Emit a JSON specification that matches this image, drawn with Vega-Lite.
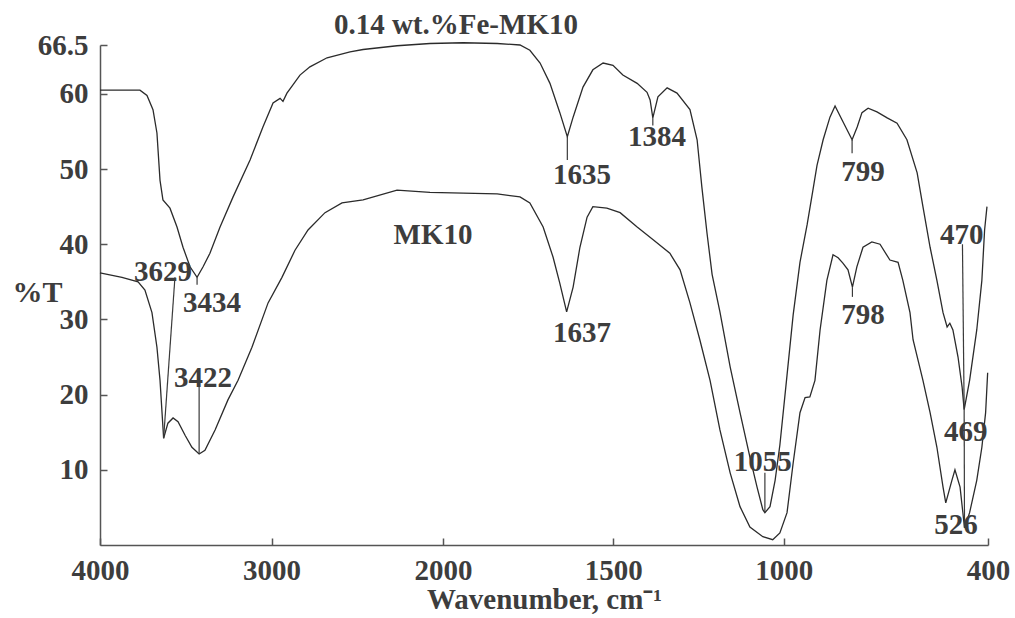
{
  "$schema": "https://vega.github.io/schema/vega-lite/v6.json",
  "width": 888,
  "height": 500,
  "autosize": "none",
  "padding": {"left": 100, "top": 45, "right": 27, "bottom": 73},
  "background": "white",
  "config": {
    "view": {"stroke": null},
    "font": "Liberation Serif"
  },
  "datasets": {
    "curves": [
      {"s": "Fe", "wn": 4000, "t": 60.5}, {"s": "Fe", "wn": 3767, "t": 60.5}, {"s": "Fe", "wn": 3726, "t": 59.8},
      {"s": "Fe", "wn": 3691, "t": 57.9}, {"s": "Fe", "wn": 3668, "t": 54.8}, {"s": "Fe", "wn": 3650, "t": 48.5},
      {"s": "Fe", "wn": 3633, "t": 45.9}, {"s": "Fe", "wn": 3592, "t": 44.8}, {"s": "Fe", "wn": 3551, "t": 42.3},
      {"s": "Fe", "wn": 3516, "t": 39.6}, {"s": "Fe", "wn": 3475, "t": 37.0}, {"s": "Fe", "wn": 3434, "t": 35.6},
      {"s": "Fe", "wn": 3399, "t": 37.0}, {"s": "Fe", "wn": 3359, "t": 38.8}, {"s": "Fe", "wn": 3300, "t": 42.3},
      {"s": "Fe", "wn": 3224, "t": 46.3}, {"s": "Fe", "wn": 3125, "t": 51.2}, {"s": "Fe", "wn": 3050, "t": 55.6},
      {"s": "Fe", "wn": 2991, "t": 58.8}, {"s": "Fe", "wn": 2950, "t": 59.4}, {"s": "Fe", "wn": 2933, "t": 59.0},
      {"s": "Fe", "wn": 2910, "t": 60.1}, {"s": "Fe", "wn": 2875, "t": 61.2}, {"s": "Fe", "wn": 2834, "t": 62.5},
      {"s": "Fe", "wn": 2776, "t": 63.6}, {"s": "Fe", "wn": 2676, "t": 64.8}, {"s": "Fe", "wn": 2542, "t": 65.6},
      {"s": "Fe", "wn": 2466, "t": 65.9}, {"s": "Fe", "wn": 2268, "t": 66.4}, {"s": "Fe", "wn": 2076, "t": 66.7},
      {"s": "Fe", "wn": 1941, "t": 66.8}, {"s": "Fe", "wn": 1841, "t": 66.7}, {"s": "Fe", "wn": 1774, "t": 66.5},
      {"s": "Fe", "wn": 1745, "t": 65.8}, {"s": "Fe", "wn": 1715, "t": 64.1}, {"s": "Fe", "wn": 1686, "t": 61.4},
      {"s": "Fe", "wn": 1657, "t": 57.5}, {"s": "Fe", "wn": 1635, "t": 54.3}, {"s": "Fe", "wn": 1618, "t": 56.9},
      {"s": "Fe", "wn": 1589, "t": 60.9}, {"s": "Fe", "wn": 1560, "t": 63.2}, {"s": "Fe", "wn": 1530, "t": 64.1},
      {"s": "Fe", "wn": 1501, "t": 63.8}, {"s": "Fe", "wn": 1472, "t": 62.5}, {"s": "Fe", "wn": 1430, "t": 61.4},
      {"s": "Fe", "wn": 1401, "t": 60.2}, {"s": "Fe", "wn": 1392, "t": 59.2}, {"s": "Fe", "wn": 1384, "t": 56.8},
      {"s": "Fe", "wn": 1369, "t": 59.6}, {"s": "Fe", "wn": 1342, "t": 60.8}, {"s": "Fe", "wn": 1313, "t": 60.1},
      {"s": "Fe", "wn": 1275, "t": 57.9}, {"s": "Fe", "wn": 1254, "t": 53.9}, {"s": "Fe", "wn": 1240, "t": 47.6},
      {"s": "Fe", "wn": 1225, "t": 41.5}, {"s": "Fe", "wn": 1210, "t": 36.0}, {"s": "Fe", "wn": 1187, "t": 31.0},
      {"s": "Fe", "wn": 1157, "t": 23.7}, {"s": "Fe", "wn": 1128, "t": 17.6}, {"s": "Fe", "wn": 1099, "t": 11.7},
      {"s": "Fe", "wn": 1078, "t": 7.7}, {"s": "Fe", "wn": 1061, "t": 4.7}, {"s": "Fe", "wn": 1055, "t": 4.3},
      {"s": "Fe", "wn": 1040, "t": 5.1}, {"s": "Fe", "wn": 1025, "t": 8.6}, {"s": "Fe", "wn": 1011, "t": 13.3},
      {"s": "Fe", "wn": 990, "t": 22.6}, {"s": "Fe", "wn": 972, "t": 30.6}, {"s": "Fe", "wn": 952, "t": 37.6},
      {"s": "Fe", "wn": 931, "t": 42.6}, {"s": "Fe", "wn": 914, "t": 47.2}, {"s": "Fe", "wn": 902, "t": 50.5},
      {"s": "Fe", "wn": 884, "t": 53.9}, {"s": "Fe", "wn": 864, "t": 56.9}, {"s": "Fe", "wn": 849, "t": 58.4},
      {"s": "Fe", "wn": 828, "t": 56.5}, {"s": "Fe", "wn": 799, "t": 53.9}, {"s": "Fe", "wn": 784, "t": 55.6},
      {"s": "Fe", "wn": 770, "t": 57.5}, {"s": "Fe", "wn": 752, "t": 58.1}, {"s": "Fe", "wn": 726, "t": 57.6},
      {"s": "Fe", "wn": 696, "t": 56.8}, {"s": "Fe", "wn": 667, "t": 56.1}, {"s": "Fe", "wn": 638, "t": 53.9},
      {"s": "Fe", "wn": 608, "t": 49.5}, {"s": "Fe", "wn": 591, "t": 45.0}, {"s": "Fe", "wn": 570, "t": 39.6},
      {"s": "Fe", "wn": 550, "t": 35.2}, {"s": "Fe", "wn": 532, "t": 30.9}, {"s": "Fe", "wn": 520, "t": 29.0},
      {"s": "Fe", "wn": 512, "t": 29.5}, {"s": "Fe", "wn": 503, "t": 28.6}, {"s": "Fe", "wn": 488, "t": 25.0},
      {"s": "Fe", "wn": 476, "t": 21.0}, {"s": "Fe", "wn": 470, "t": 18.0}, {"s": "Fe", "wn": 454, "t": 21.9},
      {"s": "Fe", "wn": 433, "t": 28.6}, {"s": "Fe", "wn": 418, "t": 35.2}, {"s": "Fe", "wn": 410, "t": 41.9},
      {"s": "Fe", "wn": 403, "t": 45.0},
      {"s": "MK", "wn": 4000, "t": 36.2}, {"s": "MK", "wn": 3872, "t": 35.6}, {"s": "MK", "wn": 3778, "t": 35.0},
      {"s": "MK", "wn": 3738, "t": 33.9}, {"s": "MK", "wn": 3697, "t": 30.9}, {"s": "MK", "wn": 3668, "t": 26.3},
      {"s": "MK", "wn": 3650, "t": 21.9}, {"s": "MK", "wn": 3629, "t": 14.2}, {"s": "MK", "wn": 3604, "t": 16.2},
      {"s": "MK", "wn": 3574, "t": 16.9}, {"s": "MK", "wn": 3545, "t": 16.4}, {"s": "MK", "wn": 3504, "t": 14.6},
      {"s": "MK", "wn": 3464, "t": 13.0}, {"s": "MK", "wn": 3422, "t": 12.1}, {"s": "MK", "wn": 3388, "t": 12.6},
      {"s": "MK", "wn": 3329, "t": 15.3}, {"s": "MK", "wn": 3254, "t": 19.3}, {"s": "MK", "wn": 3195, "t": 21.9},
      {"s": "MK", "wn": 3114, "t": 26.3}, {"s": "MK", "wn": 3020, "t": 32.2}, {"s": "MK", "wn": 2939, "t": 35.6},
      {"s": "MK", "wn": 2863, "t": 39.2}, {"s": "MK", "wn": 2787, "t": 41.9}, {"s": "MK", "wn": 2688, "t": 44.2},
      {"s": "MK", "wn": 2589, "t": 45.5}, {"s": "MK", "wn": 2466, "t": 45.9}, {"s": "MK", "wn": 2268, "t": 47.2},
      {"s": "MK", "wn": 2076, "t": 46.9}, {"s": "MK", "wn": 1941, "t": 46.8}, {"s": "MK", "wn": 1841, "t": 46.7},
      {"s": "MK", "wn": 1774, "t": 46.3}, {"s": "MK", "wn": 1745, "t": 45.5}, {"s": "MK", "wn": 1706, "t": 42.3},
      {"s": "MK", "wn": 1677, "t": 38.3}, {"s": "MK", "wn": 1657, "t": 34.8}, {"s": "MK", "wn": 1637, "t": 31.0},
      {"s": "MK", "wn": 1618, "t": 34.3}, {"s": "MK", "wn": 1598, "t": 39.6}, {"s": "MK", "wn": 1577, "t": 43.6},
      {"s": "MK", "wn": 1560, "t": 45.0}, {"s": "MK", "wn": 1519, "t": 44.8}, {"s": "MK", "wn": 1480, "t": 44.2},
      {"s": "MK", "wn": 1430, "t": 42.3}, {"s": "MK", "wn": 1383, "t": 40.6}, {"s": "MK", "wn": 1334, "t": 38.8},
      {"s": "MK", "wn": 1304, "t": 36.6}, {"s": "MK", "wn": 1275, "t": 32.2}, {"s": "MK", "wn": 1246, "t": 27.3},
      {"s": "MK", "wn": 1216, "t": 21.9}, {"s": "MK", "wn": 1187, "t": 15.3}, {"s": "MK", "wn": 1157, "t": 9.6},
      {"s": "MK", "wn": 1128, "t": 5.1}, {"s": "MK", "wn": 1099, "t": 2.4}, {"s": "MK", "wn": 1061, "t": 1.1},
      {"s": "MK", "wn": 1032, "t": 0.7}, {"s": "MK", "wn": 1011, "t": 1.6}, {"s": "MK", "wn": 990, "t": 4.3},
      {"s": "MK", "wn": 972, "t": 10.9}, {"s": "MK", "wn": 952, "t": 17.6}, {"s": "MK", "wn": 937, "t": 19.6},
      {"s": "MK", "wn": 923, "t": 19.7}, {"s": "MK", "wn": 908, "t": 21.9}, {"s": "MK", "wn": 893, "t": 28.6},
      {"s": "MK", "wn": 873, "t": 35.2}, {"s": "MK", "wn": 855, "t": 38.6}, {"s": "MK", "wn": 840, "t": 38.2},
      {"s": "MK", "wn": 826, "t": 37.5}, {"s": "MK", "wn": 811, "t": 36.6}, {"s": "MK", "wn": 798, "t": 34.3},
      {"s": "MK", "wn": 785, "t": 37.0}, {"s": "MK", "wn": 767, "t": 39.6}, {"s": "MK", "wn": 741, "t": 40.3},
      {"s": "MK", "wn": 717, "t": 40.0}, {"s": "MK", "wn": 688, "t": 37.9}, {"s": "MK", "wn": 664, "t": 37.6},
      {"s": "MK", "wn": 650, "t": 35.2}, {"s": "MK", "wn": 629, "t": 30.9}, {"s": "MK", "wn": 620, "t": 27.3},
      {"s": "MK", "wn": 591, "t": 21.9}, {"s": "MK", "wn": 570, "t": 17.6}, {"s": "MK", "wn": 550, "t": 13.0},
      {"s": "MK", "wn": 532, "t": 7.7}, {"s": "MK", "wn": 524, "t": 5.6}, {"s": "MK", "wn": 506, "t": 8.6},
      {"s": "MK", "wn": 497, "t": 10.0}, {"s": "MK", "wn": 482, "t": 7.7}, {"s": "MK", "wn": 469, "t": 2.3},
      {"s": "MK", "wn": 454, "t": 4.3}, {"s": "MK", "wn": 433, "t": 8.6}, {"s": "MK", "wn": 418, "t": 13.0},
      {"s": "MK", "wn": 407, "t": 17.6}, {"s": "MK", "wn": 401, "t": 22.9}
    ],
    "rules": [
      {"wn": 3563, "t": 35.6, "wn2": 3629, "t2": 14.2},
      {"wn": 3434, "t": 35.6, "wn2": 3434, "t2": 34.6},
      {"wn": 3422, "t": 22.0, "wn2": 3422, "t2": 12.1},
      {"wn": 1635, "t": 54.3, "wn2": 1635, "t2": 51.2},
      {"wn": 1384, "t": 56.8, "wn2": 1384, "t2": 55.8},
      {"wn": 799, "t": 53.9, "wn2": 799, "t2": 52.1},
      {"wn": 798, "t": 34.3, "wn2": 798, "t2": 33.0},
      {"wn": 1055, "t": 9.6, "wn2": 1055, "t2": 4.3},
      {"wn": 475, "t": 40.0, "wn2": 470, "t2": 18.0},
      {"wn": 470, "t": 18.0, "wn2": 469, "t2": 2.3}
    ],
    "labels": [
      {"wn": 1962, "t": 69.2, "txt": "0.14 wt.%Fe-MK10"},
      {"wn": 2058, "t": 41.2, "txt": "MK10"},
      {"wn": 3633, "t": 36.3, "txt": "3629"},
      {"wn": 3347, "t": 32.2, "txt": "3434"},
      {"wn": 3399, "t": 22.2, "txt": "3422"},
      {"wn": 1592, "t": 49.2, "txt": "1635"},
      {"wn": 1592, "t": 28.2, "txt": "1637"},
      {"wn": 1372, "t": 54.3, "txt": "1384"},
      {"wn": 767, "t": 49.6, "txt": "799"},
      {"wn": 767, "t": 30.6, "txt": "798"},
      {"wn": 1061, "t": 11.0, "txt": "1055"},
      {"wn": 477, "t": 41.2, "txt": "470"},
      {"wn": 465, "t": 15.0, "txt": "469"},
      {"wn": 494, "t": 2.7, "txt": "526"}
    ]
  },
  "layer": [
    {
      "data": {"name": "curves"},
      "mark": {"type": "line", "color": "#2b2b2b", "strokeWidth": 1.3},
      "encoding": {
        "x": {
          "field": "wn", "type": "quantitative",
          "scale": {"domain": [4000, 2000, 400], "range": [0, 343, 888], "nice": false, "zero": false},
          "axis": {
            "values": [4000, 3000, 2000, 1500, 1000, 400],
            "labelExpr": "'' + datum.value",
            "title": "Wavenumber, cm⁻¹",
            "grid": false,
            "domainColor": "#555555", "domainWidth": 1.5,
            "tickColor": "#555555", "tickWidth": 1.5, "tickSize": -7,
            "labelFont": "Liberation Serif", "labelFontWeight": "bold", "labelFontSize": 29, "labelColor": "#3d3d3d",
            "labelPadding": 18, "labelDx": 9, "labelFlush": false, "labelOverlap": false,
            "titleFont": "Liberation Serif", "titleFontWeight": "bold", "titleFontSize": 29, "titleColor": "#3d3d3d",
            "titlePadding": 0
          }
        },
        "y": {
          "field": "t", "type": "quantitative",
          "scale": {"domain": [0, 66.5], "nice": false, "zero": false},
          "axis": {
            "values": [10, 20, 30, 40, 50, 60, 66.5],
            "labelExpr": "'' + datum.value",
            "title": "%T",
            "grid": false,
            "domainColor": "#555555", "domainWidth": 1.5,
            "tickColor": "#555555", "tickWidth": 1.5, "tickSize": -7,
            "labelFont": "Liberation Serif", "labelFontWeight": "bold", "labelFontSize": 29, "labelColor": "#3d3d3d",
            "labelPadding": 19, "labelFlush": false, "labelOverlap": false,
            "titleFont": "Liberation Serif", "titleFontWeight": "bold", "titleFontSize": 30, "titleColor": "#3d3d3d",
            "titleAngle": 0, "titleAlign": "center", "titleBaseline": "middle", "titleX": -63, "titleY": 247
          }
        },
        "detail": {"field": "s", "type": "nominal"}
      }
    },
    {
      "data": {"name": "rules"},
      "mark": {"type": "rule", "color": "#3a3a3a", "strokeWidth": 1.2},
      "encoding": {
        "x": {"field": "wn", "type": "quantitative"},
        "x2": {"field": "wn2"},
        "y": {"field": "t", "type": "quantitative"},
        "y2": {"field": "t2"}
      }
    },
    {
      "data": {"name": "labels"},
      "mark": {"type": "text", "font": "Liberation Serif", "fontWeight": "bold", "fontSize": 29, "color": "#3d3d3d", "align": "center", "baseline": "middle"},
      "encoding": {
        "x": {"field": "wn", "type": "quantitative"},
        "y": {"field": "t", "type": "quantitative"},
        "text": {"field": "txt", "type": "nominal"}
      }
    }
  ]
}
